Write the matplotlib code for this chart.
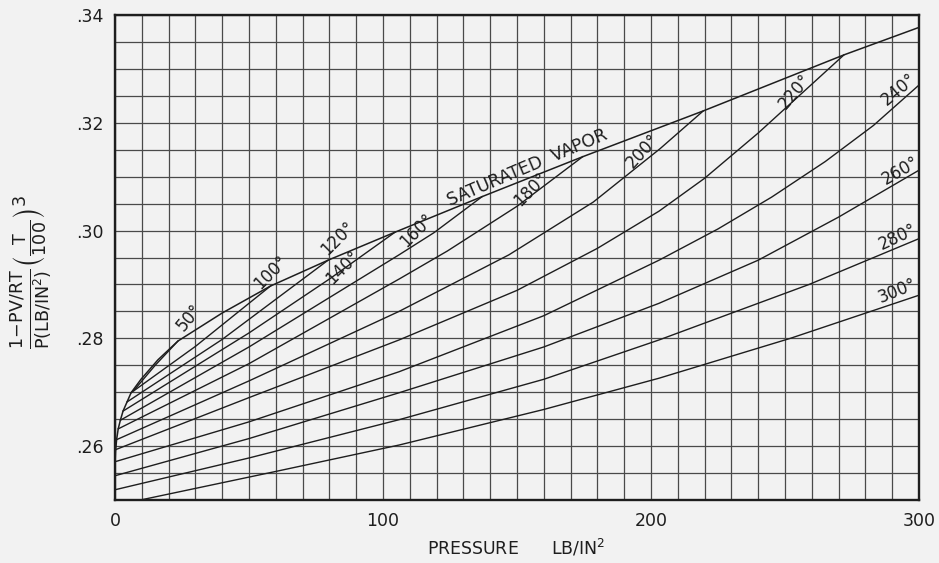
import numpy as np
import matplotlib
matplotlib.use('Agg')
import matplotlib.pyplot as plt

# saturated vapor curve (pressure, value)
sat_p = [0, 0.2, 0.6, 1.2, 2, 3, 4.5, 6, 9.7, 16, 23.5, 40, 58, 79.5, 104.5, 137, 174.5, 219.5, 272, 300]
sat_y = [.2566, .2590, .2612, .2632, .2648, .2665, .2682, .2699, .2724, .2760, .2795, .2847,
         .2897, .2945, .2997, .3063, .3137, .3222, .3326, .3377]

# isotherms, degrees
temps = [50, 100, 120, 140, 160, 180, 200, 220, 240, 260, 280, 300]
iso_p = [
    [7, 15, 23.5],
    [6, 30, 58],
    [4.5, 40, 79.5],
    [3, 50, 80, 104.5],
    [2, 50, 106, 119, 137],
    [1.2, 50, 106, 124, 150, 174.5],
    [0.6, 50, 106, 147, 178.5, 203.4, 219.5],
    [0, 50, 106, 150, 180, 203, 220, 240, 259, 272],
    [0, 50, 106, 160, 203, 225, 245, 265, 283, 300],
    [0, 50, 106, 160, 203, 240, 270, 300],
    [0, 50, 106, 160, 203, 259, 300],
    [9.5, 60, 106, 160, 203, 252, 300],
]
iso_y = [
    [.2703, .2750, .2795],
    [.2699, .2785, .2897],
    [.2682, .2798, .2945],
    [.2665, .2810, .2910, .2997],
    [.2648, .2784, .2955, .2996, .3063],
    [.2632, .2753, .2910, .2962, .3045, .3137],
    [.2612, .2721, .2850, .2955, .3053, .3152, .3222],
    [.2593, .2690, .2797, .2889, .2967, .3036, .3097, .3181, .3267, .3326],
    [.2571, .2645, .2738, .2842, .2945, .3003, .3062, .3128, .3195, .3270],
    [.2545, .2614, .2699, .2784, .2865, .2945, .3025, .3112],
    [.2519, .2578, .2649, .2724, .2797, .2900, .2985],
    [.2500, .2553, .2602, .2668, .2726, .2800, .2880],
]

# label text, position (pressure, value), rotation
lab_text = ['50°', '100°', '120°', '140°', '160°', '180°', '200°', '220°',
            '240°', '260°', '280°', '300°', 'SATURATED  VAPOR']
lab_p = [27.6, 58, 83, 85, 112.5, 155, 197, 253.7, 292.5, 293, 292, 291.8, 154]
lab_y = [.2838, .2923, .2986, .2932, .3000, .3077, .3148, .3259, .3263, .3112, .2988, .2888, .3116]
lab_rot = [50, 45, 45, 45, 45, 45, 47, 50, 40, 30, 25, 22, 23]

bg = '#f2f2f2'
ink = '#1e1e1e'

fig = plt.figure(figsize=(9.39, 5.63), dpi=100, facecolor=bg)
ax = fig.add_axes([115 / 939, 1 - 500 / 563, 804 / 939, 485 / 563])
ax.set_facecolor(bg)

ax.plot(sat_p, sat_y, color=ink, lw=1.1)
for p, y in zip(iso_p, iso_y):
    ax.plot(p, y, color=ink, lw=1.0)

for t, p, y, r in zip(lab_text, lab_p, lab_y, lab_rot):
    fs = 12.5 if t.startswith('SAT') else 12
    ax.text(p, y, t, rotation=r, rotation_mode='anchor', ha='center', va='center',
            fontsize=fs, color=ink)

ax.set_xlim(0, 300)
ax.set_ylim(.25, .34)
ax.set_xticks([0, 100, 200, 300])
ax.set_xticklabels(['0', '100', '200', '300'])
ax.set_xticks(np.arange(0, 301, 10), minor=True)
ax.set_yticks([.26, .28, .30, .32, .34])
ax.set_yticklabels(['.26', '.28', '.30', '.32', '.34'])
ax.set_yticks(np.arange(.25, .3401, .005), minor=True)
ax.tick_params(which='both', length=0, labelsize=12.5, colors=ink)
ax.tick_params(axis='x', pad=9)
ax.tick_params(axis='y', pad=8)
ax.grid(which='both', color='#4a4a4a', lw=0.9)
ax.set_axisbelow(True)
for s in ax.spines.values():
    s.set_linewidth(1.7)
    s.set_color(ink)

fig.text(516 / 939, 1 - 548 / 563, 'PRESSURE      LB/IN$^{2}$', ha='center', va='center',
         fontsize=12.5, color=ink)
fig.text(32 / 939, 1 - 272 / 563,
         r'$\frac{\mathsf{1\!-\!PV/RT}}{\mathsf{P(LB/IN^{2})}}\left(\frac{\mathsf{T}}{\mathsf{100}}\right)^{3}$',
         rotation=90, ha='center', va='center', fontsize=18, color=ink)

fig.savefig('out.png', dpi=100, facecolor=bg)
